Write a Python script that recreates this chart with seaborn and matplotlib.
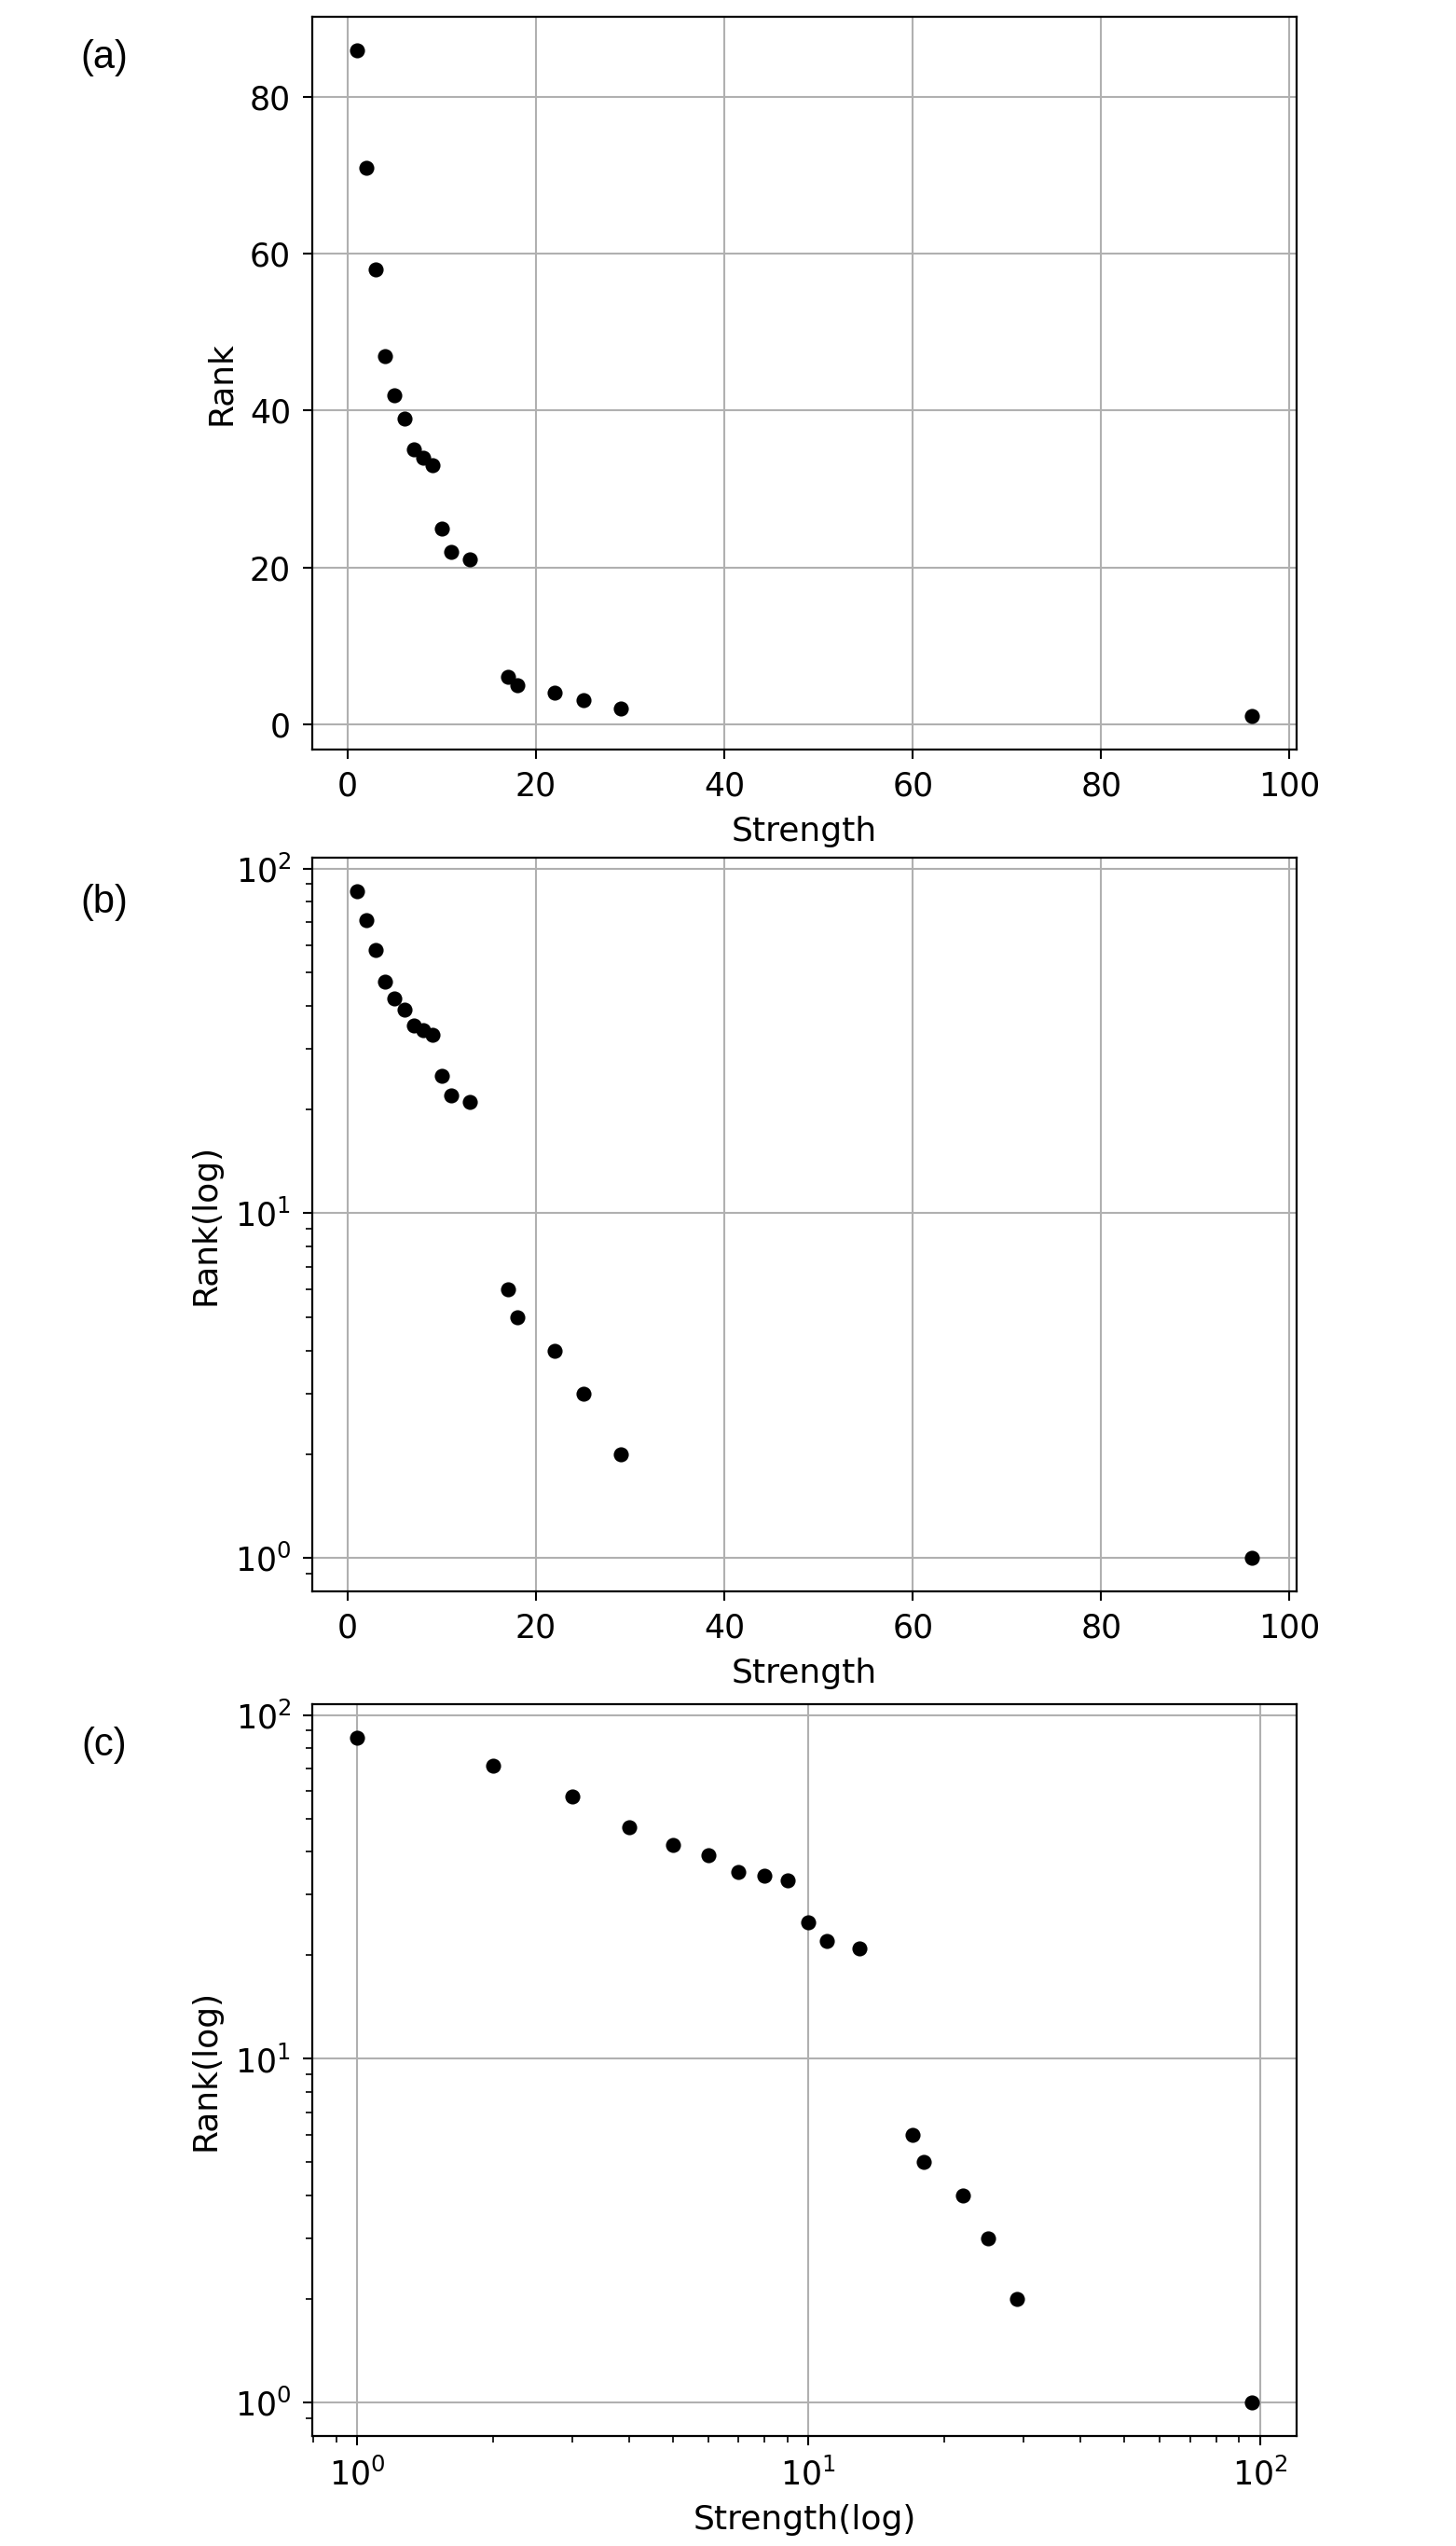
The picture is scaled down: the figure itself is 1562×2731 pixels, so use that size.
import matplotlib
matplotlib.use("Agg")
import matplotlib.pyplot as plt
import seaborn as sns
import pandas as pd

strength = [1, 2, 3, 4, 5, 6, 7, 8, 9, 10, 11, 13, 17, 18, 22, 25, 29, 96]
rank = [86, 71, 58, 47, 42, 39, 35, 34, 33, 25, 22, 21, 6, 5, 4, 3, 2, 1]
lin_xticks = [0, 20, 40, 60, 80, 100]
lin_yticks = [0, 20, 40, 60, 80]
panel_labels = ["(a)", "(b)", "(c)"]
xlabels = ["Strength", "Strength", "Strength(log)"]
ylabels = ["Rank", "Rank(log)", "Rank(log)"]

df = pd.DataFrame({"Strength": strength, "Rank": rank})

plt.rcParams["font.family"] = ["DejaVu Sans"]
W, H = 1562, 2731
fig = plt.figure(figsize=(W / 100, H / 100), dpi=100)

boxes = [(18, 804), (920, 1707), (1828, 2613)]
left_px, right_px = 335, 1391
label_y = [62, 968, 1872]

for i, (top, bot) in enumerate(boxes):
    ax = fig.add_axes([left_px / W, 1 - bot / H, (right_px - left_px) / W, (bot - top) / H])
    sns.scatterplot(data=df, x="Strength", y="Rank", ax=ax, color="black",
                    s=135, linewidth=0, marker="o", zorder=3)
    if i >= 1:
        ax.set_yscale("log")
    if i == 2:
        ax.set_xscale("log")
    if i == 0:
        ax.set_xticks(lin_xticks)
        ax.set_yticks(lin_yticks)
    if i == 1:
        ax.set_xticks(lin_xticks)
    ax.grid(True, which="major", color="#b0b0b0", linewidth=1.5, zorder=0)
    ax.set_axisbelow(True)
    for sp in ax.spines.values():
        sp.set_linewidth(1.6)
        sp.set_color("black")
    ax.tick_params(axis="both", which="major", labelsize=25, length=7.5, width=1.5, pad=9)
    ax.tick_params(axis="both", which="minor", length=5, width=1.2)
    ax.set_xlabel(xlabels[i], fontsize=26, labelpad=10)
    ax.set_ylabel(ylabels[i], fontsize=26, labelpad=10)
    if i < 2:
        ax.set_xlim(-3.75, 100.75)
    fig.text(112 / W, 1 - label_y[i] / H, panel_labels[i], fontsize=30,
             family=["Liberation Sans", "DejaVu Sans"], ha="center", va="center")

fig.savefig("out.png", dpi=100, facecolor="white")
